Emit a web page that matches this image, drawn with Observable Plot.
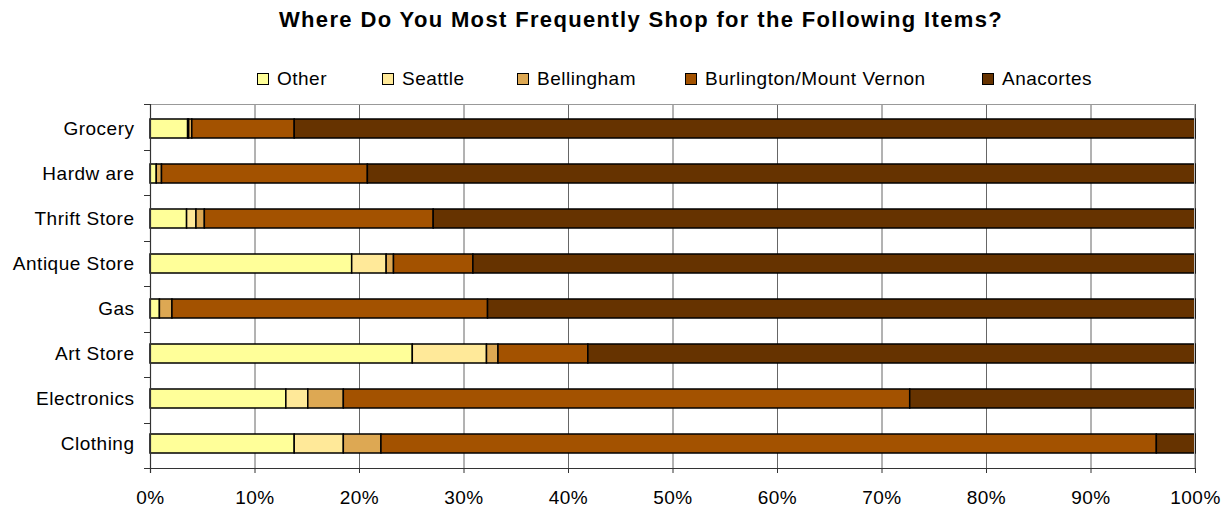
<!DOCTYPE html>
<html>
<head>
<meta charset="utf-8">
<script src="https://cdn.jsdelivr.net/npm/d3@7"></script>
<script src="https://cdn.jsdelivr.net/npm/@observablehq/plot@0.6"></script>
<style>
  html, body { margin: 0; padding: 0; background: #fff; }
  body { width: 1230px; height: 514px; position: relative; overflow: hidden; font-family: "Liberation Sans", Arial, sans-serif; }
  #title { position: absolute; top: 7px; left: 0; width: 1282px; text-align: center; font-weight: bold; font-size: 22px; letter-spacing: 1.35px; line-height: 26px; color: #000; }
  #legend { position: absolute; top: 68px; left: 0; width: 1230px; height: 22px; font-size: 19px; letter-spacing: 0.5px; color: #000; white-space: nowrap; }
  .item { position: absolute; top: 0; height: 22px; display: flex; align-items: center; }
  .sw { width: 10px; height: 10px; border: 1px solid #000; margin-right: 8px; }
  #chart { position: absolute; top: 95px; left: 0; }
</style>
</head>
<body>
<div id="title">Where Do You Most Frequently Shop for the Following Items?</div>
<div id="legend"></div>
<div id="chart"></div>
<script>
// ---- data ----
const categories = ["Grocery", "Hardw are", "Thrift Store", "Antique Store", "Gas", "Art Store", "Electronics", "Clothing"];
const series = ["Other", "Seattle", "Bellingham", "Burlington/Mount Vernon", "Anacortes"];
const colors = ["#FFFF99", "#FFE999", "#DDA853", "#A35200", "#663300"];
const other      = [3.6, 0.6, 3.5, 19.3, 0.9, 25.1, 13.0, 13.8];
const seattle    = [0.1, 0.0, 0.9,  3.3, 0.0,  7.1,  2.1,  4.7];
const bellingham = [0.3, 0.5, 0.8,  0.7, 1.2,  1.1,  3.4,  3.6];
const burlington = [9.8, 19.7, 21.9, 7.6, 30.2, 8.6, 54.2, 74.2];
const anacortes  = [86.2, 79.2, 72.9, 69.1, 67.7, 58.1, 27.3, 3.7];
const xTicks = [0, 10, 20, 30, 40, 50, 60, 70, 80, 90, 100];

// legend item left edges (layout)
const legendLeft = [257, 382, 517, 685, 982];

const valuesBySeries = [other, seattle, bellingham, burlington, anacortes];
const rows = [];
series.forEach((s, si) => {
  categories.forEach((c, ci) => {
    const v = valuesBySeries[si][ci];
    if (v > 0) rows.push({category: c, series: s, value: v});
  });
});

// ---- legend ----
const legend = document.getElementById("legend");
series.forEach((s, i) => {
  const it = document.createElement("div");
  it.className = "item";
  it.style.left = legendLeft[i] + "px";
  const sw = document.createElement("div");
  sw.className = "sw";
  sw.style.background = colors[i];
  const t = document.createElement("span");
  t.textContent = s;
  it.appendChild(sw); it.appendChild(t);
  legend.appendChild(it);
});

// ---- decorations: frame lines and category boundary ticks ----
function decorations(index, scales, values, dimensions) {
  const {width, height, marginLeft, marginRight, marginTop, marginBottom} = dimensions;
  const x0 = marginLeft, x1 = width - marginRight, y0 = marginTop, y1 = height - marginBottom;
  const g = d3.create("svg:g");
  g.append("line").attr("x1", x0).attr("x2", x1).attr("y1", y0 + 0.5).attr("y2", y0 + 0.5).attr("stroke", "#999");
  g.append("line").attr("x1", x1 - 0.5).attr("x2", x1 - 0.5).attr("y1", y0).attr("y2", y1).attr("stroke", "#bbb");
  g.append("line").attr("x1", x0 + 0.5).attr("x2", x0 + 0.5).attr("y1", y0).attr("y2", y1 + 5).attr("stroke", "#333").attr("stroke-width", 1.2);
  g.append("line").attr("x1", x0 - 6).attr("x2", x1).attr("y1", y1 + 0.5).attr("y2", y1 + 0.5).attr("stroke", "#333").attr("stroke-width", 1.2);
  const n = categories.length;
  for (let i = 0; i <= n; i++) {
    const yy = Math.round(y0 + (y1 - y0) * i / n) + 0.5;
    g.append("line").attr("x1", x0 - 6).attr("x2", x0).attr("y1", yy).attr("y2", yy).attr("stroke", "#333");
  }
  return g.node();
}

const chart = Plot.plot({
  width: 1230,
  height: 419,
  marginLeft: 150,
  marginRight: 35,
  marginTop: 9,
  marginBottom: 46,
  style: {fontFamily: "'Liberation Sans', Arial, sans-serif", fontSize: "19px", letterSpacing: "0.5px", color: "#000", background: "#fff", overflow: "visible"},
  x: {domain: [0, 100], label: null},
  y: {domain: categories, paddingInner: 0.58, paddingOuter: 0.29, label: null},
  color: {domain: series, range: colors},
  marks: [
    Plot.gridX(xTicks, {stroke: "#666", strokeOpacity: 1}),
    Plot.barX(rows, Plot.stackX({
      y: "category",
      x: "value",
      fill: "series",
      z: "series",
      stroke: "#000",
      strokeWidth: 1.5
    })),
    decorations,
    Plot.axisX({ticks: xTicks, tickFormat: d => d + "%", tickSize: 5, tickPadding: 17, fontSize: 19, stroke: "#333"}),
    Plot.axisY({tickSize: 0, tickPadding: 16, fontSize: 19})
  ]
});
document.getElementById("chart").appendChild(chart);
</script>
</body>
</html>
